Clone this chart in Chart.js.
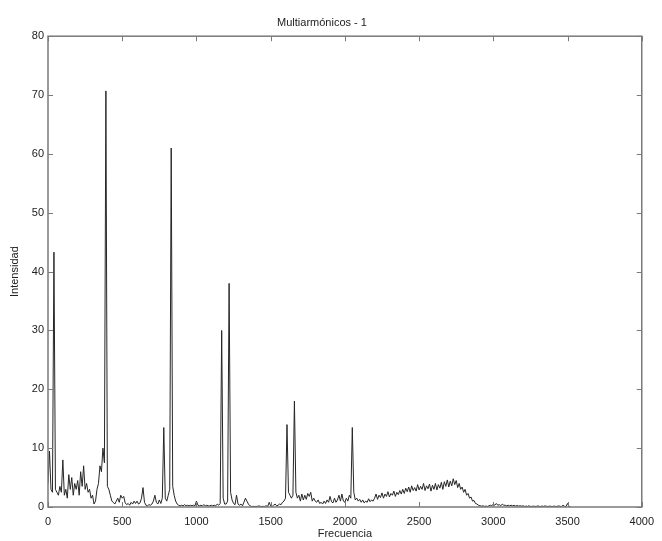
<!DOCTYPE html>
<html lang="es">
<head>
<meta charset="UTF-8">
<title>Multiarmónicos - 1</title>
<script src="https://cdn.jsdelivr.net/npm/chart.js"></script>
<style>
  html, body { margin: 0; padding: 0; background: #fff; }
  canvas { display: block; }
</style>
</head>
<body>
<canvas id="grafico" width="662" height="541"></canvas>
<script>
// espectro leído a ojo del gráfico, una muestra cada 10 Hz desde 0 Hz
const titulo = "Multiarmónicos - 1";
const etiquetaX = "Frecuencia";
const etiquetaY = "Intensidad";
const frecInicio = 0;
const frecPaso = 10;
const intensidad = [
  // 0 - 190
  4, 9.5, 3, 2.5, 43.3, 3, 2.5, 2, 3.5, 2.5, 8, 2, 3, 1.5, 5.5, 3, 5, 2, 4, 3,
  // 200 - 390
  4.5, 2, 6, 3.5, 7, 3, 4, 2.5, 3, 1.5, 2, 0.5, 1, 3, 4, 7, 6, 10, 7.5, 70.7,
  // 400 - 590
  3.5, 3, 2, 1, 0.8, 0.5, 1, 1.5, 0.8, 2, 1.5, 1.8, 0.7, 0.4, 0.6, 0.3, 0.8, 0.5, 1, 0.6,
  // 600 - 790
  1, 0.5, 0.7, 1.5, 3.3, 0.8, 0.3, 0.2, 0.4, 0.3, 0.5, 1, 2, 0.8, 0.5, 1.2, 0.6, 1.5, 13.5, 1.5,
  // 800 - 990
  1, 2, 3, 61, 3.5, 2, 1, 0.5, 0.3, 0.2, 0.3, 0.2, 0.4, 0.2, 0.3, 0.2, 0.3, 0.2, 0.3, 0.2,
  // 1000 - 1190
  1, 0.3, 0.2, 0.3, 0.2, 0.4, 0.2, 0.3, 0.2, 0.2, 0.3, 0.2, 0.3, 0.2, 0.5, 0.3, 0.6, 30, 1.5, 0.5,
  // 1200 - 1390
  0.5, 1, 38, 2.5, 1.2, 0.6, 0.4, 2, 0.5, 0.3, 0.5, 0.2, 0.8, 1.5, 1, 0.5, 0.2, 0.1, 0.1, 0.1,
  // 1400 - 1590
  0.1, 0.1, 0.2, 0.1, 0.1, 0.1, 0.1, 0.2, 0.1, 0.8, 0.2, 0.1, 0.3, 0.5, 0.2, 0.3, 0.5, 0.4, 0.8, 1,
  // 1600 - 1790
  1.5, 14, 2.5, 2, 1.5, 2, 18, 2.5, 1.5, 2, 1, 2.2, 1.2, 2, 1.3, 2.3, 1.8, 2.5, 1, 1.5,
  // 1800 - 1990
  1, 0.8, 1.2, 0.6, 0.8, 0.5, 1, 0.6, 1.2, 0.8, 1.8, 0.9, 0.7, 1.5, 0.8, 1.2, 2, 1, 2.2, 1,
  // 2000 - 2190
  0.8, 1.5, 1, 2, 1.5, 13.5, 2.5, 1.2, 1.5, 1, 1.3, 0.8, 1.2, 0.7, 1, 0.8, 1.4, 0.9, 1.2, 1,
  // 2200 - 2390
  1.5, 2.2, 1.3, 2.0, 1.6, 2.4, 1.5, 2.2, 1.8, 2.6, 1.7, 2.3, 2.0, 2.7, 1.8, 2.5, 2.1, 2.8, 2.2, 3.0,
  // 2400 - 2590
  2.3, 3.2, 2.6, 3.4, 2.5, 3.6, 2.8, 3.3, 2.7, 3.8, 2.9, 3.5, 3.0, 4.0, 2.8, 3.6, 3.1, 3.9, 2.7, 3.7,
  // 2600 - 2790
  3.0, 4.0, 2.9, 3.8, 3.2, 4.2, 3.0, 4.3, 3.5, 4.6, 3.4, 4.4, 3.6, 4.8, 3.8, 4.5, 3.3, 4.0, 3.0, 3.4,
  // 2800 - 2990
  2.5, 3.0, 2.0, 2.3, 1.5, 1.7, 1.0, 1.1, 0.6, 0.5, 0.3, 0.2, 0.15, 0.2, 0.1, 0.15, 0.1, 0.2, 0.3, 0.2,
  // 3000 - 3190
  0.5, 0.3, 0.6, 0.3, 0.4, 0.2, 0.5, 0.3, 0.3, 0.2, 0.3, 0.2, 0.3, 0.2, 0.3, 0.15, 0.25, 0.15, 0.2, 0.15,
  // 3200 - 3390
  0.2, 0.1, 0.15, 0.1, 0.2, 0.1, 0.1, 0.15, 0.1, 0.1, 0.2, 0.1, 0.1, 0.15, 0.1, 0.2, 0.1, 0.1, 0.15, 0.1,
  // 3400 - 3520
  0.1, 0.15, 0.1, 0.1, 0.2, 0.1, 0.1, 0.3, 0.1, 0.1, 0.6, 0.1, 0.05
];
const ticksX = [0, 500, 1000, 1500, 2000, 2500, 3000, 3500, 4000];
const ticksY = [0, 10, 20, 30, 40, 50, 60, 70, 80];

const fuente = { family: "'Liberation Sans', Arial, sans-serif", size: 11, weight: "normal" };
const colorTexto = "#222";
const colorEje = "#7a7a7a";

var puntos = intensidad.map(function (v, i) {
  return { x: frecInicio + i * frecPaso, y: v };
});

// caja completa con marcas hacia dentro en los cuatro lados (estilo MATLAB)
const marco = {
  id: "marco",
  afterDraw(chart) {
    const ctx = chart.ctx;
    const a = chart.chartArea;
    const sx = chart.scales.x;
    const sy = chart.scales.y;
    const largo = 5;
    ctx.save();
    ctx.strokeStyle = colorEje;
    ctx.lineWidth = 1.5;
    ctx.strokeRect(a.left, a.top, a.right - a.left, a.bottom - a.top);
    ctx.lineWidth = 1;
    ctx.beginPath();
    sx.ticks.forEach(function (t) {
      var px = Math.round(sx.getPixelForValue(t.value)) + 0.5;
      ctx.moveTo(px, a.bottom);
      ctx.lineTo(px, a.bottom - largo);
      ctx.moveTo(px, a.top);
      ctx.lineTo(px, a.top + largo);
    });
    sy.ticks.forEach(function (t) {
      var py = Math.round(sy.getPixelForValue(t.value)) + 0.5;
      ctx.moveTo(a.left, py);
      ctx.lineTo(a.left + largo, py);
      ctx.moveTo(a.right, py);
      ctx.lineTo(a.right - largo, py);
    });
    ctx.stroke();
    ctx.restore();
  }
};

new Chart(document.getElementById("grafico"), {
  type: "line",
  data: {
    datasets: [{
      data: puntos,
      borderColor: "#262626",
      borderWidth: 1,
      pointRadius: 0,
      tension: 0,
      fill: false
    }]
  },
  options: {
    responsive: false,
    animation: false,
    layout: { padding: { left: 0, right: 18, top: 0, bottom: 0 } },
    plugins: {
      legend: { display: false },
      tooltip: { enabled: false },
      title: {
        display: true,
        text: titulo,
        color: colorTexto,
        font: fuente,
        padding: { top: 16, bottom: 7 }
      }
    },
    scales: {
      x: {
        type: "linear",
        min: 0,
        max: 4000,
        afterBuildTicks: function (s) { s.ticks = ticksX.map(function (v) { return { value: v }; }); },
        afterFit: function (s) { s.height = 34; },
        grid: { display: false, drawTicks: false },
        border: { display: false },
        ticks: { color: colorTexto, font: fuente, padding: 8, maxRotation: 0,
          callback: function (v) { return String(v); } },
        title: { display: true, text: etiquetaX, color: colorTexto, font: fuente, padding: { top: 2, bottom: 0 } }
      },
      y: {
        type: "linear",
        min: 0,
        max: 80,
        afterBuildTicks: function (s) { s.ticks = ticksY.map(function (v) { return { value: v }; }); },
        afterFit: function (s) { s.width = 48; },
        grid: { display: false, drawTicks: false },
        border: { display: false },
        ticks: { color: colorTexto, font: fuente, padding: 4,
          callback: function (v) { return String(v); } },
        title: { display: true, text: etiquetaY, color: colorTexto, font: fuente, padding: { top: 8, bottom: 0 } }
      }
    }
  },
  plugins: [marco]
});
</script>
</body>
</html>
